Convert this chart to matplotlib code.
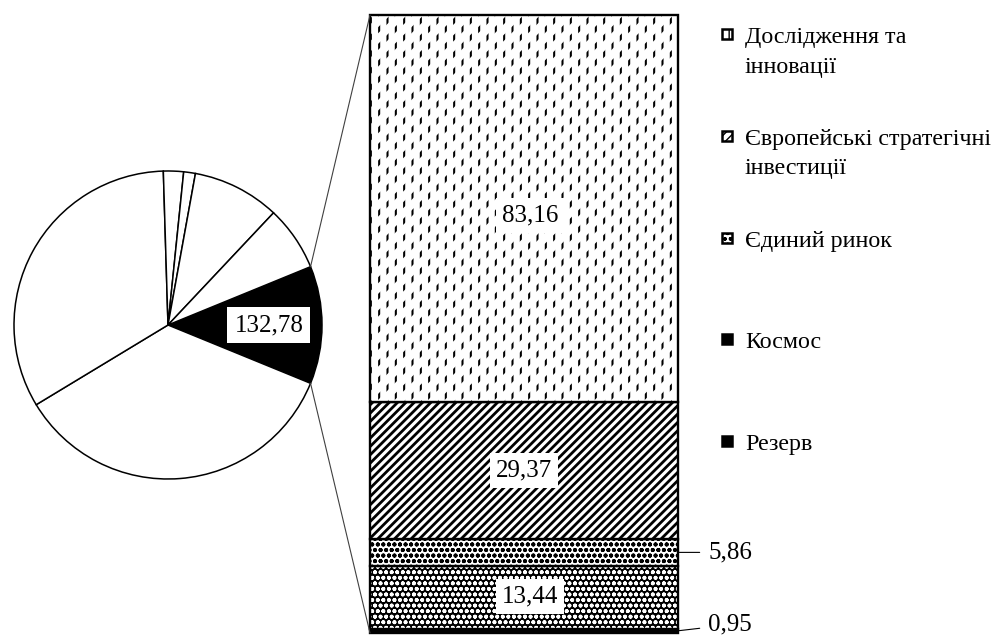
import matplotlib
matplotlib.use('Agg')
import matplotlib.pyplot as plt
from matplotlib.patches import ConnectionPatch, Rectangle
import numpy as np

plt.rcParams['font.family'] = ['Liberation Serif', 'DejaVu Serif']

# Pie: MFF headings (bn EUR), first one is split out into the bar
pie_values = [132.78, 377.77, 356.37, 22.67, 13.19, 98.42, 73.10]

# Bar: breakdown of the first heading, top to bottom as in the legend
bar_labels = ['Дослідження та\nінновації',
              'Європейські стратегічні\nінвестиції',
              'Єдиний ринок',
              'Космос',
              'Резерв']
bar_values = [83.16, 29.37, 5.86, 13.44, 0.95]

# Look of each bar segment: face, hatch + its lw, white overlay hatch + its lw
styles = [
    dict(face='white', hatch='||', hlw=1.5, over='//', olw=5.4),
    dict(face='white', hatch='////', hlw=2.0, over=None, olw=0),
    dict(face='white', hatch='ooo', hlw=1.3, over=None, olw=0),
    dict(face='black', hatch=None, hlw=1.0, over='ooo', olw=1.2),
    dict(face='black', hatch=None, hlw=1.0, over=None, olw=0),
]
# where the value label goes: inside (boxed) or outside with a leader,
# plus a small pixel nudge
inside_label = [True, True, False, True, False]
label_nudge = [(6, -7), (0, 0), (30, 0), (6, 1), (30, 6)]

W, H = 996, 636
FS_NUM = 18
FS_LEG = 17.3


def box(left, top, right, bottom):
    '''Pixel box measured from the top left corner -> figure rect.'''
    return [left / W, 1 - bottom / H, (right - left) / W, (bottom - top) / H]


def fmt(v):
    return '{:.2f}'.format(v).replace('.', ',')


def set_hlw(patch, lw):
    if hasattr(patch, 'set_hatch_linewidth'):
        patch.set_hatch_linewidth(lw)


fig = plt.figure(figsize=(W / 100, H / 100), dpi=100)

# ---- pie ----
ax_pie = fig.add_axes(box(12, 169, 324, 481))
total = sum(pie_values)
start = pie_values[0] / total * 180
pie_colors = ['black'] + ['white'] * (len(pie_values) - 1)
wedges, _ = ax_pie.pie(pie_values, colors=pie_colors, startangle=start,
                       counterclock=False,
                       wedgeprops=dict(edgecolor='black', linewidth=1.1))
ax_pie.set_xlim(-1.013, 1.013)
ax_pie.set_ylim(-1.013, 1.013)
ax_pie.set_aspect('equal')

w0 = wedges[0]
mid = np.deg2rad((w0.theta1 + w0.theta2) / 2)
ax_pie.text(0.655 * np.cos(mid), 0.655 * np.sin(mid), fmt(pie_values[0]),
            ha='center', va='center', fontsize=FS_NUM,
            bbox=dict(facecolor='white', edgecolor='none', pad=5))

# ---- bar ----
ax_bar = fig.add_axes(box(370, 15, 678, 633))
bar_total = sum(bar_values)
ax_bar.set_xlim(-0.5, 0.5)
ax_bar.set_ylim(0, bar_total)
ax_bar.axis('off')

bottom = 0
for i in reversed(range(len(bar_values))):
    val = bar_values[i]
    st = styles[i]
    base = ax_bar.bar(0, val, width=1, bottom=bottom, color=st['face'],
                      edgecolor='black', hatch=st['hatch'], linewidth=0)[0]
    set_hlw(base, st['hlw'])
    if st['over']:
        ov = ax_bar.bar(0, val, width=1, bottom=bottom, color='none',
                        edgecolor='white', hatch=st['over'], linewidth=0)[0]
        set_hlw(ov, st['olw'])
    ax_bar.bar(0, val, width=1, bottom=bottom, fill=False,
               edgecolor='black', linewidth=1.7, clip_on=False)
    ymid = bottom + val / 2
    if inside_label[i]:
        ax_bar.annotate(fmt(val), xy=(0, ymid), xytext=label_nudge[i],
                        textcoords='offset pixels', ha='center', va='center',
                        fontsize=FS_NUM,
                        bbox=dict(facecolor='white', edgecolor='none', pad=4.5))
    else:
        ax_bar.annotate(fmt(val), xy=(0.5, ymid), xytext=label_nudge[i],
                        textcoords='offset pixels', ha='left', va='center',
                        fontsize=FS_NUM, annotation_clip=False,
                        arrowprops=dict(arrowstyle='-', color='black',
                                        linewidth=0.8, shrinkA=4, shrinkB=0))
    bottom += val

# ---- connector lines ----
for ang, yend in [(w0.theta2, bar_total), (w0.theta1, 0)]:
    a = np.deg2rad(ang)
    con = ConnectionPatch(xyA=(np.cos(a), np.sin(a)), coordsA=ax_pie.transData,
                          xyB=(-0.5, yend), coordsB=ax_bar.transData,
                          color='#404040', linewidth=0.8)
    fig.add_artist(con)

# ---- legend (drawn by hand so the key sits on the first line) ----
leg_base = 43
leg_step = 101.75
line_px = 29.5
for i, name in enumerate(bar_labels):
    st = styles[i]
    yb = leg_base + i * leg_step
    key = Rectangle((722 / W, 1 - (yb - 4) / H), 10 / W, 10 / H,
                    transform=fig.transFigure, facecolor=st['face'],
                    edgecolor='black', hatch=st['hatch'], linewidth=1.8)
    set_hlw(key, 1.0)
    fig.add_artist(key)
    for j, line in enumerate(name.split('\n')):
        fig.text(745 / W, 1 - (yb + j * line_px) / H, line, ha='left',
                 va='baseline', fontsize=FS_LEG)

fig.savefig('out.png', dpi=100)
